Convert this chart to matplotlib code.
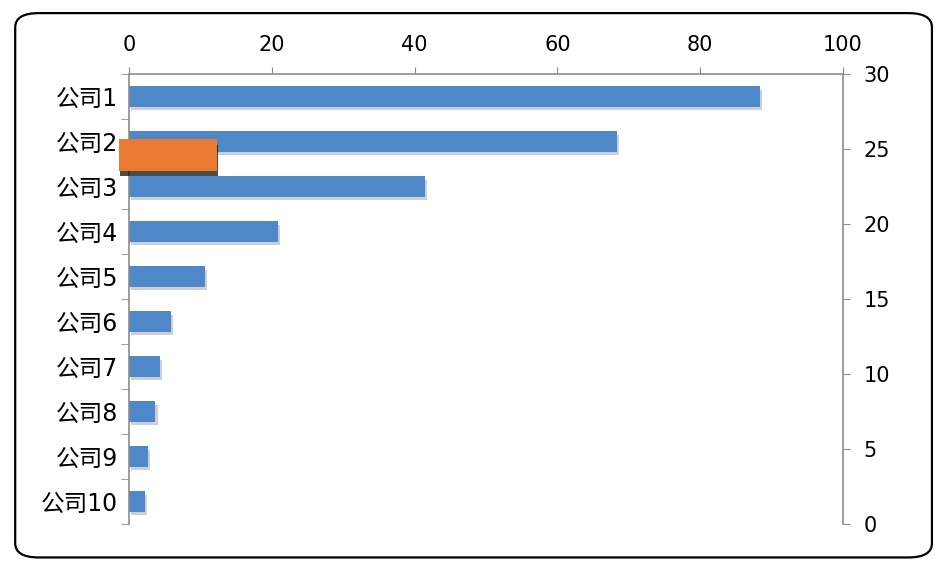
import matplotlib
matplotlib.use('Agg')
import matplotlib.pyplot as plt
import matplotlib.patheffects as pe
from matplotlib.patches import FancyBboxPatch
import numpy as np

plt.rcParams['font.family'] = ['DejaVu Sans', 'Noto Sans CJK SC']

companies = ['公司1', '公司2', '公司3', '公司4', '公司5',
             '公司6', '公司7', '公司8', '公司9', '公司10']
values = [88.4, 68.3, 41.5, 20.9, 10.6, 5.9, 4.3, 3.7, 2.7, 2.2]

# orange marker series on the secondary axis
orange_y = [24.6]
orange_x = [12.3]

x_ticks = [0, 20, 40, 60, 80, 100]
y2_ticks = [0, 5, 10, 15, 20, 25, 30]

blue = '#4F88C8'
orange = '#EC7A30'
axis_grey = '#8C8C8C'

fig = plt.figure(figsize=(9.5, 5.7), dpi=100)
ax = fig.add_axes([0.1358, 0.0807, 0.7516, 0.7895])

pos = np.arange(len(companies))
bars = ax.barh(pos, values, height=0.45, color=blue, zorder=2)
for b in bars:
    b.set_path_effects([pe.SimplePatchShadow(offset=(1.5, -2.5), alpha=0.22), pe.Normal()])

ax.set_ylim(len(companies) - 0.5, -0.5)
ax.set_yticks(pos)
ax.set_yticklabels(companies, fontsize=17)
ax.set_yticks(np.arange(-0.5, len(companies)), minor=True)
ax.tick_params(axis='y', which='major', length=0, pad=8)
ax.tick_params(axis='y', which='minor', length=6, color=axis_grey, direction='out')

ax.set_xlim(0, 100)
ax.set_xticks(x_ticks)
ax.xaxis.tick_top()
ax.tick_params(axis='x', length=5, pad=9, labelsize=15, color=axis_grey)

for s in ['left', 'top']:
    ax.spines[s].set_color(axis_grey)
    ax.spines[s].set_linewidth(1.2)
ax.spines['bottom'].set_visible(False)
ax.spines['right'].set_visible(False)

ax2 = ax.twinx()
ax2.set_ylim(0, 30)
ax2.set_yticks(y2_ticks)
ax2.tick_params(axis='y', length=5, pad=10, labelsize=15, color=axis_grey)
ax2.spines['right'].set_color(axis_grey)
ax2.spines['right'].set_linewidth(1.2)
for s in ['left', 'top', 'bottom']:
    ax2.spines[s].set_visible(False)

ob = ax2.barh(orange_y, [v + 1.4 for v in orange_x], left=-1.4, height=2.1,
              color=orange, zorder=3, clip_on=False)
for b in ob:
    b.set_path_effects([pe.SimplePatchShadow(offset=(1, -4), alpha=0.75, shadow_rgbFace='#111111'),
                        pe.Normal()])

# outer rounded frame
frame = FancyBboxPatch((0.016, 0.022), 0.965, 0.955, boxstyle='round,pad=0,rounding_size=0.025',
                       transform=fig.transFigure, fill=False, edgecolor='black', linewidth=1.6)
fig.patches.append(frame)

fig.savefig('out.png', dpi=100)
plt.close()
